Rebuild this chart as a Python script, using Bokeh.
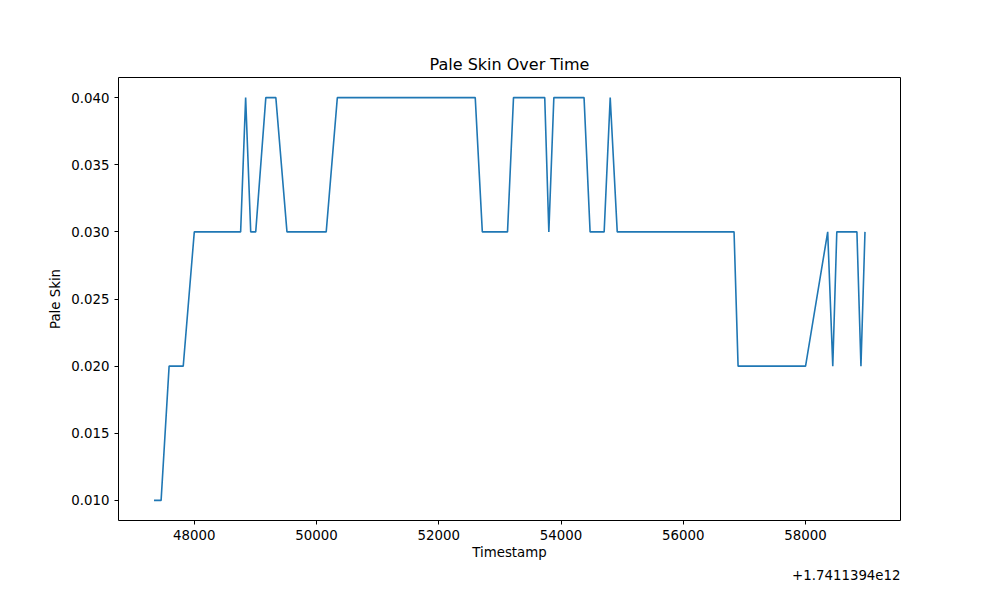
from bokeh.plotting import figure
from bokeh.models import Range1d, FixedTicker, Title, CustomJSTickFormatter
from bokeh.embed import file_html
from bokeh.resources import INLINE

# timestamps shown as offset from 1.7411394e12 (ms)
OFFSET_TEXT = "+1.7411394e12"
ts = [47341, 47457, 47588, 47819, 48000, 48758, 48840, 48923, 49005, 49170,
      49334, 49516, 50158, 50340, 52596, 52712, 53124, 53222, 53733, 53800,
      53882, 54376, 54475, 54705, 54804, 54919, 56830, 56896, 58000, 58362,
      58445, 58511, 58840, 58906, 58972]
pale_skin = [0.010, 0.010, 0.020, 0.020, 0.030, 0.030, 0.040, 0.030, 0.030, 0.040,
             0.040, 0.030, 0.030, 0.040, 0.040, 0.030, 0.030, 0.040, 0.040, 0.030,
             0.040, 0.040, 0.030, 0.030, 0.040, 0.030, 0.030, 0.020, 0.020, 0.030,
             0.020, 0.030, 0.030, 0.020, 0.030]
x_ticks = [48000, 50000, 52000, 54000, 56000, 58000]
y_ticks = [0.010, 0.015, 0.020, 0.025, 0.030, 0.035, 0.040]

FONT = "DejaVu Sans"

p = figure(width=984, height=584, output_backend="svg", toolbar_location=None,
           x_axis_label="Timestamp", y_axis_label="Pale Skin",
           x_range=Range1d(46760, 59553), y_range=Range1d(0.0085, 0.0415),
           min_border_left=118, min_border_right=84, min_border_top=10, min_border_bottom=10)

p.line(ts, pale_skin, line_width=1.6, color="#1f77b4")

p.add_layout(Title(text=OFFSET_TEXT, align="right", text_font=FONT, text_font_size="10pt",
                   text_font_style="normal", text_color="black"), "below")
p.add_layout(Title(text="Pale Skin Over Time", align="center", text_font=FONT,
                   text_font_size="12pt", text_font_style="normal", text_color="black",
                   offset=0, standoff=8), "above")
p.add_layout(Title(text=" ", text_font_size="24pt"), "above")

p.xgrid.visible = False
p.ygrid.visible = False
p.outline_line_color = "black"

for ax in (p.xaxis, p.yaxis):
    ax.axis_label_text_font = FONT
    ax.axis_label_text_font_size = "10pt"
    ax.axis_label_text_font_style = "normal"
    ax.axis_label_text_color = "black"
    ax.major_label_text_font = FONT
    ax.major_label_text_font_size = "10pt"
    ax.major_label_text_color = "black"
    ax.minor_tick_line_color = None
    ax.major_tick_in = 0
    ax.major_tick_out = 4
    ax.axis_line_color = None

p.xaxis.ticker = FixedTicker(ticks=x_ticks)
p.yaxis.ticker = FixedTicker(ticks=y_ticks)
p.yaxis.formatter = CustomJSTickFormatter(code="return tick.toFixed(3);")
p.xaxis.formatter = CustomJSTickFormatter(code="return tick.toFixed(0);")
p.xaxis.axis_label_standoff = 2

open("out.html", "w").write(file_html(p, INLINE))
